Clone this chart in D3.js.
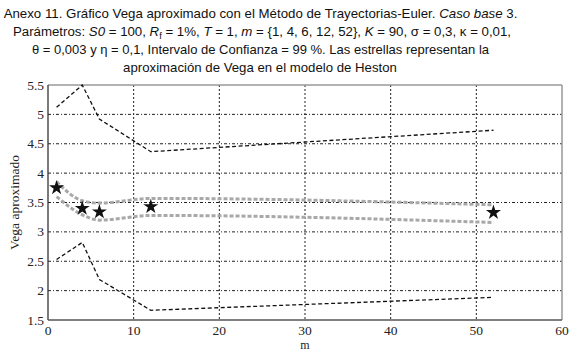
<!DOCTYPE html>
<html><head><meta charset="utf-8">
<script src="https://cdn.jsdelivr.net/npm/d3@7"></script>
<style>body{margin:0;background:#fff}svg{display:block}</style>
</head><body>
<svg id="c" width="579" height="352"></svg>
<script>
const mValues = [1, 4, 6, 12, 52];
const upperCI = [5.12, 5.50, 4.92, 4.365, 4.73];
const lowerCI = [2.53, 2.82, 2.19, 1.665, 1.886];
const upperMean = [3.855, 3.53, 3.49, 3.57, 3.46];
const lowerMean = [3.60, 3.29, 3.20, 3.28, 3.16];
const hestonVega = [3.75, 3.40, 3.34, 3.43, 3.33];
const xTicks = [0, 10, 20, 30, 40, 50, 60];
const yTicks = [1.5, 2, 2.5, 3, 3.5, 4, 4.5, 5, 5.5];

const svg = d3.select("#c");
const L = 48, R = 562, T = 85, B = 320;
const x = d3.scaleLinear().domain([0, 60]).range([L, R]);
const y = d3.scaleLinear().domain([1.5, 5.5]).range([B, T]);

// title
const title = svg.append("g").attr("font-family", "Liberation Sans, Arial, sans-serif").attr("fill", "#111");
function tline(yy, parts, len, cx) {
  const fs0 = 15;
  const t = title.append("text").attr("x", cx).attr("y", yy).attr("text-anchor", "middle").attr("font-size", fs0);
  parts.forEach(p => {
    const s = t.append("tspan").text(p[0]);
    if (p[1] === "i") s.attr("font-style", "italic");
    if (p[1] === "sub") s.attr("font-size", "0.7em").attr("dy", 3);
    if (p[1] === "after") s.attr("dy", -3);
  });
  const w = t.node().getComputedTextLength();
  t.attr("font-size", (fs0 * len / w).toFixed(2));
}
tline(18, [["Anexo 11. Gráfico Vega aproximado con el Método de Trayectorias-Euler. "], ["Caso base", "i"], [" 3."]], 514, 260.5);
tline(36, [["Parámetros: "], ["S0", "i"], [" = 100, "], ["R", "i"], ["f", "sub"], [" = 1%, ", "after"], ["T", "i"], [" = 1, "], ["m", "i"], [" = {1, 4, 6, 12, 52}, "], ["K", "i"], [" = 90, σ = 0,3, κ = 0,01,"]], 498, 262);
tline(54, [["θ = 0,003 y η = 0,1, Intervalo de Confianza = 99 %. Las estrellas representan la"]], 457, 260.5);
tline(72, [["aproximación de Vega en el modelo de Heston"]], 274, 260);

// grid
const g = svg.append("g");
g.selectAll("line.vx").data(xTicks.filter(d => d > 0 && d < 60)).join("line")
  .attr("x1", d => x(d)).attr("x2", d => x(d)).attr("y1", T).attr("y2", B)
  .attr("stroke", "#222").attr("stroke-width", 1).attr("stroke-dasharray", "2,2");
g.selectAll("line.hy").data(yTicks.filter(d => d > 1.5 && d < 5.5)).join("line")
  .attr("x1", L).attr("x2", R).attr("y1", d => y(d)).attr("y2", d => y(d))
  .attr("stroke", "#222").attr("stroke-width", 1).attr("stroke-dasharray", "3,2,1,2");

// frame
svg.append("line").attr("x1", L).attr("x2", R).attr("y1", T).attr("y2", T).attr("stroke", "#999").attr("stroke-width", 1.5);
svg.append("line").attr("x1", R).attr("x2", R).attr("y1", T).attr("y2", B).attr("stroke", "#999").attr("stroke-width", 1.5);
svg.append("line").attr("x1", L).attr("x2", L).attr("y1", T).attr("y2", B).attr("stroke", "#333").attr("stroke-width", 1.3);
svg.append("line").attr("x1", L).attr("x2", R).attr("y1", B).attr("y2", B).attr("stroke", "#555").attr("stroke-width", 1.3);

// axes labels
const ax = svg.append("g").attr("font-family", "Liberation Serif, Times New Roman, serif").attr("font-size", 13.5).attr("fill", "#222");
ax.selectAll("text.yt").data(yTicks).join("text").attr("x", L - 4).attr("y", d => y(d) + 4.5)
  .attr("text-anchor", "end").text(d => d3.format("")(d));
ax.selectAll("text.xt").data(xTicks).join("text").attr("x", d => x(d)).attr("y", B + 14.5)
  .attr("text-anchor", "middle").text(d => d);
ax.append("text").attr("x", x(30)).attr("y", 349).attr("font-size", 12).attr("text-anchor", "middle").text("m");
ax.append("text").attr("transform", `translate(19,${(T + B) / 2}) rotate(-90)`).attr("text-anchor", "middle").text("Vega aproximado");

// lines
const line = d3.line().x((d, i) => x(mValues[i])).y(d => y(d));
[upperMean, lowerMean].forEach(s => {
  svg.append("path").attr("d", line.curve(d3.curveMonotoneX)(s)).attr("fill", "none")
    .attr("stroke", "#a8a8a8").attr("stroke-width", 3).attr("stroke-dasharray", "4,2");
});
line.curve(d3.curveLinear);
[upperCI, lowerCI].forEach(s => {
  svg.append("path").attr("d", line(s)).attr("fill", "none")
    .attr("stroke", "#111").attr("stroke-width", 1.3).attr("stroke-dasharray", "4,2.5");
});

// stars
const star = d3.symbol().type(d3.symbolStar).size(70);
svg.selectAll("path.star").data(hestonVega).join("path")
  .attr("transform", (d, i) => `translate(${x(mValues[i])},${y(d)})`)
  .attr("d", star()).attr("fill", "#111");
</script>
</body></html>
